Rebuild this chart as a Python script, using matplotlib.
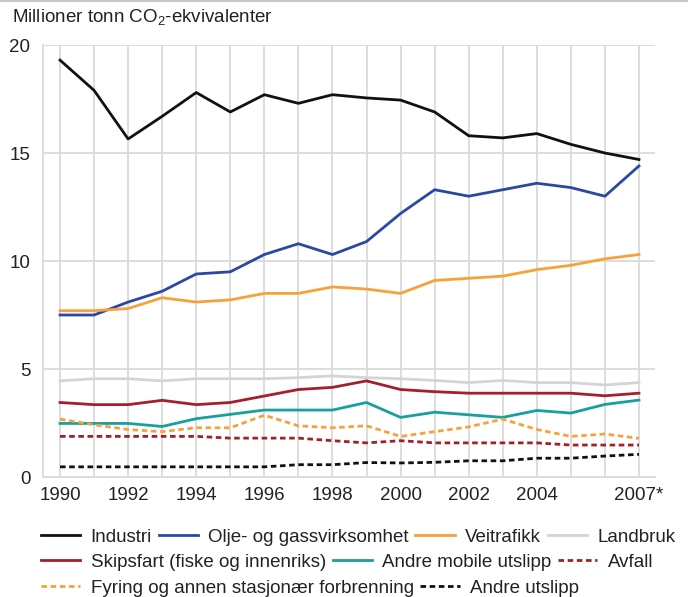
import matplotlib
matplotlib.use("Agg")
import matplotlib.pyplot as plt
from matplotlib.lines import Line2D

plt.rcParams['font.family'] = ['Liberation Sans', 'DejaVu Sans']
plt.rcParams['mathtext.fontset'] = 'custom'
plt.rcParams['mathtext.rm'] = 'Liberation Sans'

years = list(range(1990, 2008))
tick_years = [1990, 1992, 1994, 1996, 1998, 2000, 2002, 2004, 2007]
tick_labels = ["1990", "1992", "1994", "1996", "1998", "2000", "2002", "2004", "2007*"]

industri = [19.3, 17.9, 15.65, 16.7, 17.8, 16.9, 17.7, 17.3, 17.7, 17.55, 17.45, 16.9, 15.8, 15.7, 15.9, 15.4, 15.0, 14.7]
olje = [7.5, 7.5, 8.1, 8.6, 9.4, 9.5, 10.3, 10.8, 10.3, 10.9, 12.2, 13.3, 13.0, 13.3, 13.6, 13.4, 13.0, 14.4]
veitrafikk = [7.7, 7.7, 7.8, 8.3, 8.1, 8.2, 8.5, 8.5, 8.8, 8.7, 8.5, 9.1, 9.2, 9.3, 9.6, 9.8, 10.1, 10.3]
landbruk = [4.45, 4.55, 4.55, 4.45, 4.55, 4.55, 4.55, 4.6, 4.68, 4.6, 4.55, 4.47, 4.37, 4.47, 4.37, 4.37, 4.26, 4.37]
skipsfart = [3.45, 3.35, 3.35, 3.55, 3.35, 3.45, 3.75, 4.05, 4.15, 4.45, 4.05, 3.95, 3.88, 3.88, 3.88, 3.88, 3.76, 3.88]
andre_mobile = [2.48, 2.48, 2.48, 2.34, 2.7, 2.9, 3.1, 3.1, 3.1, 3.45, 2.76, 3.0, 2.88, 2.76, 3.08, 2.96, 3.36, 3.56]
avfall = [1.88, 1.88, 1.88, 1.88, 1.88, 1.8, 1.8, 1.8, 1.68, 1.58, 1.68, 1.58, 1.58, 1.58, 1.58, 1.48, 1.48, 1.48]
fyring = [2.68, 2.42, 2.2, 2.1, 2.28, 2.28, 2.86, 2.37, 2.28, 2.37, 1.88, 2.1, 2.32, 2.68, 2.2, 1.88, 1.99, 1.79]
andre_utslipp = [0.47, 0.47, 0.47, 0.47, 0.47, 0.47, 0.47, 0.57, 0.57, 0.67, 0.65, 0.68, 0.75, 0.75, 0.87, 0.87, 0.97, 1.05]

black = '#111111'
blue = '#2b47a3'
orange = '#f7a13a'
grey = '#d4d4d4'
red = '#a31f2a'
teal = '#17a09c'
gridc = '#dadada'

fig = plt.figure(figsize=(6.88, 5.97), dpi=100)
ax = fig.add_axes([0.0625, 0.201, 0.8895, 0.7236])

lw = 2.0
dash = (2.0, 1.3)
l_ind, = ax.plot(years, industri, color=black, lw=lw)
l_olj, = ax.plot(years, olje, color=blue, lw=lw)
l_vei, = ax.plot(years, veitrafikk, color=orange, lw=lw)
l_lan, = ax.plot(years, landbruk, color=grey, lw=lw)
l_ski, = ax.plot(years, skipsfart, color=red, lw=lw)
l_amo, = ax.plot(years, andre_mobile, color=teal, lw=lw)
l_avf, = ax.plot(years, avfall, color=red, lw=lw, dashes=dash)
l_fyr, = ax.plot(years, fyring, color=orange, lw=lw, dashes=dash)
l_and, = ax.plot(years, andre_utslipp, color=black, lw=lw, dashes=dash)

ax.set_xlim(1989.5, 2007.47)
ax.set_ylim(0, 20)
ax.set_yticks([0, 5, 10, 15, 20])
ax.set_xticks(tick_years)
ax.set_xticklabels(tick_labels)
ax.set_xticks(years, minor=True)
ax.grid(True, which='both', axis='x', color=gridc, lw=1.3)
ax.grid(True, which='major', axis='y', color=gridc, lw=1.3)
ax.set_axisbelow(True)
ax.tick_params(which='both', length=0, labelsize=13.5, colors='#222222')
ax.tick_params(axis='y', pad=9)
ax.tick_params(axis='x', pad=7)
for s in ['top', 'right']:
    ax.spines[s].set_visible(False)
for s in ['left', 'bottom']:
    ax.spines[s].set_color(gridc)
    ax.spines[s].set_linewidth(1.3)

fig.text(12 / 688, 1 - 18 / 597, 'Millioner tonn CO$_{2}$-ekvivalenter',
         fontsize=13.5, va='center', ha='left', color='#222222')
fig.add_artist(Line2D([0, 1], [0.998, 0.998], color='#c8c8c8', lw=1.5,
                      transform=fig.transFigure))

# legend rows, the way the original flows them
rows = [
    ([l_ind, l_olj, l_vei, l_lan], ['Industri', 'Olje- og gassvirksomhet', 'Veitrafikk', 'Landbruk'], 1 - 537 / 597),
    ([l_ski, l_amo, l_avf], ['Skipsfart (fiske og innenriks)', 'Andre mobile utslipp', 'Avfall'], 1 - 562 / 597),
    ([l_fyr, l_and], ['Fyring og annen stasjonær forbrenning', 'Andre utslipp'], 1 - 588 / 597),
]
for handles, labels, y in rows:
    fig.legend(handles, labels, loc='center left', bbox_to_anchor=(41 / 688, y),
               ncol=len(handles), frameon=False, fontsize=13.5, handlelength=2.1,
               handletextpad=0.55, columnspacing=0.35, borderpad=0, borderaxespad=0,
               labelcolor='#222222')

fig.savefig('out.png', dpi=100)
